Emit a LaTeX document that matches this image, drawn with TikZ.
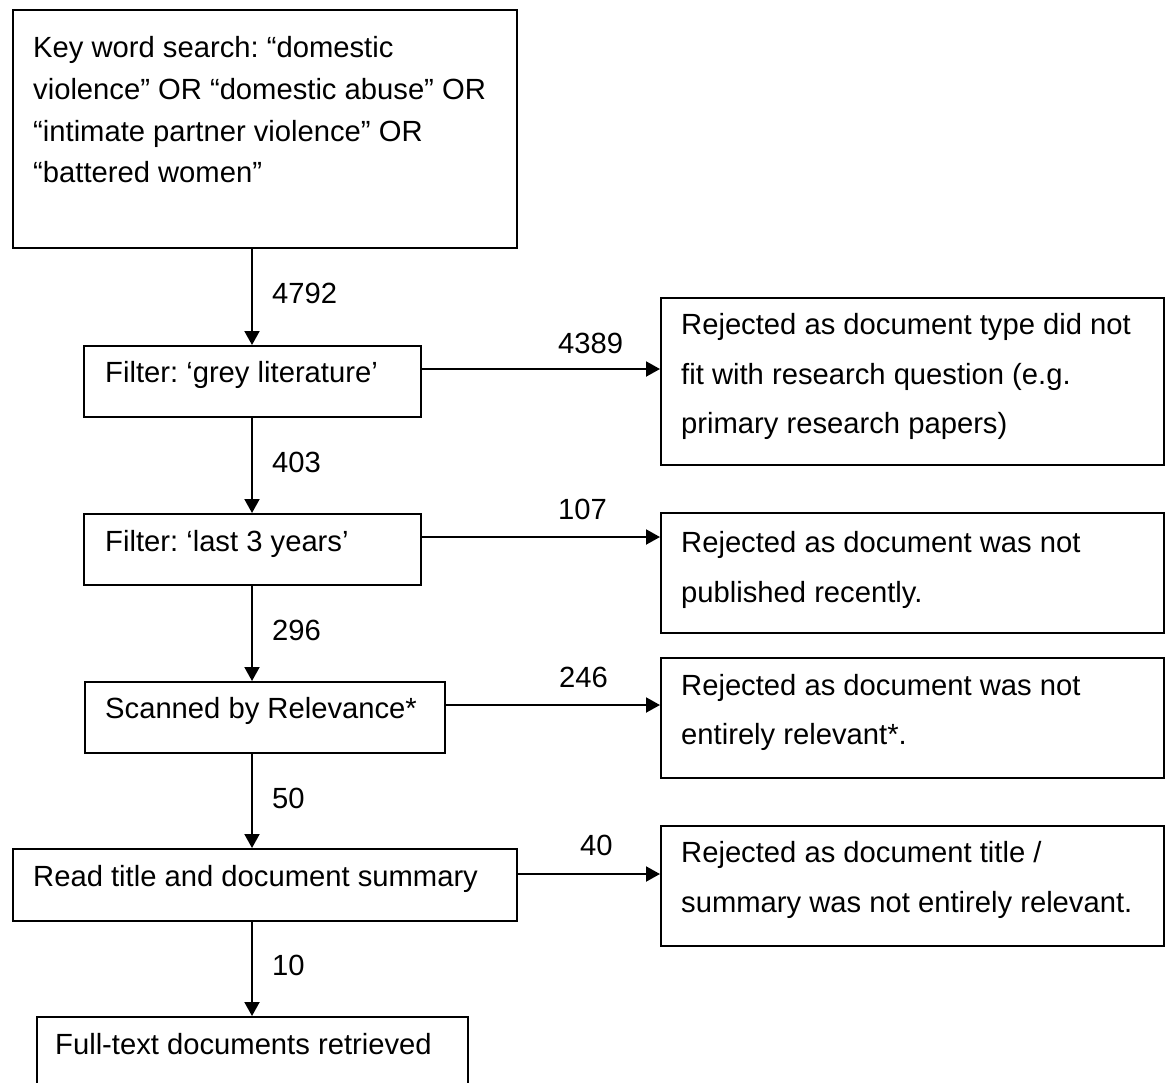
\documentclass[tikz,border=0pt]{standalone}
\usepackage{fontspec}
\setmainfont{Liberation Sans}
\usetikzlibrary{arrows.meta}
\frenchspacing
\begin{document}
\begin{tikzpicture}[x=1pt,y=-1pt,
  box/.style={draw, line width=2pt, anchor=north west, inner sep=0pt},
  txt/.style={anchor=base west, inner sep=0pt, font=\fontsize{29.2}{35}\selectfont},
  arr/.style={line width=2pt, -{Triangle[length=14pt,width=15pt]}}]
\useasboundingbox (0,0) rectangle (1165,1082);
\fill[white] (0,0) rectangle (1165,1082);
\clip (0,0) rectangle (1165,1082);
\coordinate (colx) at (252,0);
% left column boxes
\node[box, minimum width=503.5pt, minimum height=238.5pt] (b1) at (12,8.6) {};
\node[box, minimum width=337pt, minimum height=71pt] (b2) at (83,345) {};
\node[box, minimum width=337pt, minimum height=71pt] (b3) at (83,513) {};
\node[box, minimum width=360pt, minimum height=71pt] (b4) at (84,681) {};
\node[box, minimum width=504pt, minimum height=72pt] (b5) at (12,848) {};
\node[box, minimum width=431.5pt, minimum height=110pt] (b6) at (35.5,1016) {};
% right column boxes
\node[box, minimum width=503pt, minimum height=167pt] (r1) at (660,297) {};
\node[box, minimum width=503pt, minimum height=120pt] (r2) at (660,512) {};
\node[box, minimum width=503pt, minimum height=120pt] (r3) at (660,657) {};
\node[box, minimum width=503pt, minimum height=120pt] (r4) at (660,825) {};
% texts
\node[txt] (t1a) at (33,57) {Key word search: “domestic};
\node[txt] (t1b) at (33,99.5) {violence” OR “domestic abuse” OR};
\node[txt] (t1c) at (33,141) {“intimate partner violence” OR};
\node[txt] (t1d) at (33,182.5) {“battered women”};
\node[txt] (t2) at (105,382) {Filter: ‘grey literature’};
\node[txt] (t3) at (105,551) {Filter: ‘last 3 years’};
\node[txt] (t4) at (105,718) {Scanned by Relevance*};
\node[txt] (t5) at (33,886) {Read title and document summary};
\node[txt] (t6) at (55,1054) {Full-text documents retrieved};
\node[txt] (s1a) at (681,334) {Rejected as document type did not};
\node[txt] (s1b) at (681,384) {fit with research question (e.g.};
\node[txt] (s1c) at (681,433) {primary research papers)};
\node[txt] (s2a) at (681,552) {Rejected as document was not};
\node[txt] (s2b) at (681,602) {published recently.};
\node[txt] (s3a) at (681,695) {Rejected as document was not};
\node[txt] (s3b) at (681,744) {entirely relevant*.};
\node[txt] (s4a) at (681,862) {Rejected as document title /};
\node[txt] (s4b) at (681,912) {summary was not entirely relevant.};
% vertical arrows
\draw[arr] (b1.south -| colx) -- (b2.north -| colx);
\draw[arr] (b2.south -| colx) -- (b3.north -| colx);
\draw[arr] (b3.south -| colx) -- (b4.north -| colx);
\draw[arr] (b4.south -| colx) -- (b5.north -| colx);
\draw[arr] (b5.south -| colx) -- (b6.north -| colx);
% horizontal arrows
\draw[arr] ([yshift=12.5pt]b2.east) -- ([yshift=12.5pt]b2.east -| r1.west);
\draw[arr] ([yshift=12.5pt]b3.east) -- ([yshift=12.5pt]b3.east -| r2.west);
\draw[arr] ([yshift=12.5pt]b4.east) -- ([yshift=12.5pt]b4.east -| r3.west);
\draw[arr] ([yshift=11pt]b5.east) -- ([yshift=11pt]b5.east -| r4.west);
% labels
\node[txt] (n1) at (272,303) {4792};
\node[txt] (n2) at (272,472) {403};
\node[txt] (n3) at (272,640) {296};
\node[txt] (n4) at (272,808) {50};
\node[txt] (n5) at (272,975) {10};
\node[txt] (m1) at (558,353) {4389};
\node[txt] (m2) at (558,519) {107};
\node[txt] (m3) at (559,687) {246};
\node[txt] (m4) at (580,855) {40};
\end{tikzpicture}
\end{document}
